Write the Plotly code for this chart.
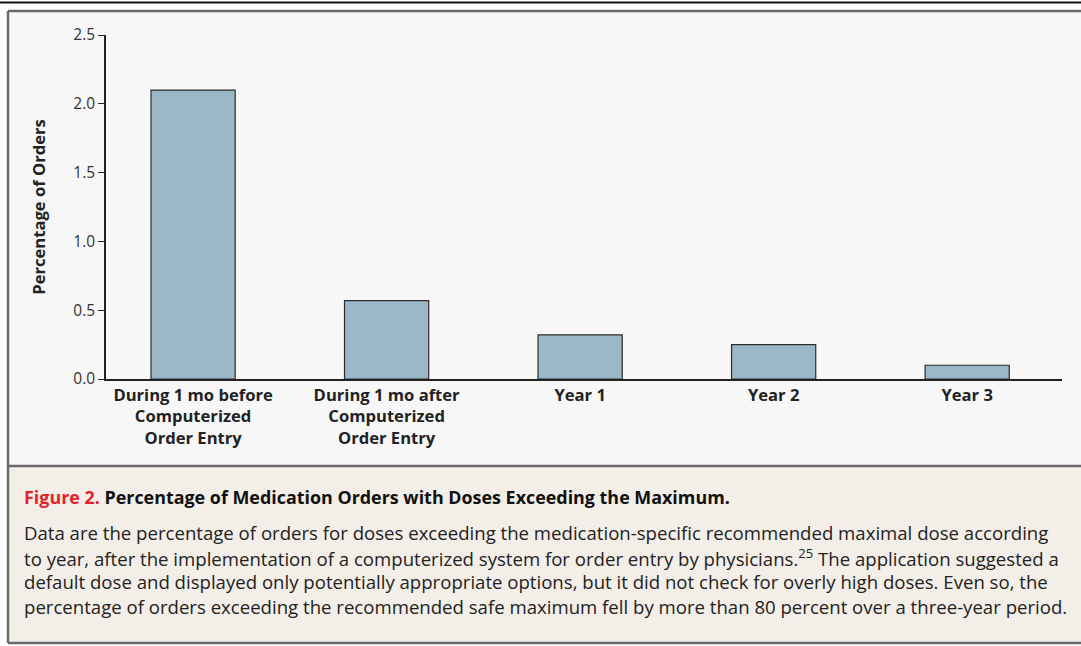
import plotly.graph_objects as go

categories = [
    "During 1 mo before<br>Computerized<br>Order Entry",
    "During 1 mo after<br>Computerized<br>Order Entry",
    "Year 1",
    "Year 2",
    "Year 3",
]
values = [2.10, 0.57, 0.32, 0.25, 0.10]
y_ticks = [0.0, 0.5, 1.0, 1.5, 2.0, 2.5]
y_tick_labels = ["0.0", "0.5", "1.0", "1.5", "2.0", "2.5"]

caption_title_red = "Figure 2."
caption_title = "Percentage of Medication Orders with Doses Exceeding the Maximum."
caption_lines = [
    "Data are the percentage of orders for doses exceeding the medication-specific recommended maximal dose according",
    "to year, after the implementation of a computerized system for order entry by physicians.<sup>25</sup> The application suggested a",
    "default dose and displayed only potentially appropriate options, but it did not check for overly high doses. Even so, the",
    "percentage of orders exceeding the recommended safe maximum fell by more than 80 percent over a three-year period.",
]

W, H = 1081, 646
ML, MR, MT, MB = 106, 19, 35, 267
PW = W - ML - MR
PH = H - MT - MB

def px(x):
    return (x - ML) / PW

def py(y):
    return (H - MB - y) / PH

FONT = "Open Sans"

fig = go.Figure()
fig.add_trace(go.Bar(
    x=list(range(len(categories))),
    y=values,
    width=0.435,
    marker=dict(color="#9cb8c8", line=dict(color="#2b2b2b", width=1.2)),
    hoverinfo="skip",
))

shapes = []
shapes.append(dict(type="line", xref="paper", yref="paper", x0=px(0), x1=px(W), y0=py(2.5), y1=py(2.5),
                   line=dict(color="#111", width=2), layer="below"))
shapes.append(dict(type="rect", xref="paper", yref="paper", x0=px(8), x1=px(W + 5), y0=py(11), y1=py(466),
                   fillcolor="#f7f7f7", line=dict(width=0), layer="below"))
shapes.append(dict(type="rect", xref="paper", yref="paper", x0=px(8), x1=px(W + 5), y0=py(466), y1=py(643),
                   fillcolor="#f3eee7", line=dict(width=0), layer="below"))
for (x0, y0, x1, y1) in [(8, 11, W + 5, 11), (8, 466, W + 5, 466), (8, 643, W + 5, 643), (8, 11, 8, 643)]:
    shapes.append(dict(type="line", xref="paper", yref="paper", x0=px(x0), x1=px(x1), y0=py(y0), y1=py(y1),
                       line=dict(color="#6a6a6a", width=2.5), layer="below"))

annotations = []
annotations.append(dict(
    xref="paper", yref="paper", x=px(22), y=py(497), xanchor="left", yanchor="middle",
    text=f"<span style='color:#e3232b'><b>{caption_title_red}</b></span> <b>{caption_title}</b>",
    showarrow=False, font=dict(family=FONT, size=17.9, color="#111"),
))
line_y = [532, 557, 581, 606]
for t, yy in zip(caption_lines, line_y):
    annotations.append(dict(
        xref="paper", yref="paper", x=px(22), y=py(yy), xanchor="left", yanchor="middle",
        text=t, showarrow=False, font=dict(family=FONT, size=18.6, color="#222"),
    ))

fig.update_layout(
    width=W, height=H,
    margin=dict(l=ML, r=MR, t=MT, b=MB),
    paper_bgcolor="white",
    plot_bgcolor="rgba(0,0,0,0)",
    showlegend=False,
    shapes=shapes,
    annotations=annotations,
    xaxis=dict(
        range=[-0.45, 4.49],
        tickmode="array",
        tickvals=list(range(len(categories))),
        ticktext=[f"<b>{c}</b>" for c in categories],
        showline=True, linecolor="#222", linewidth=1.5,
        ticks="", showgrid=False, zeroline=False,
        tickfont=dict(family=FONT, size=16.6, color="#222"),
        fixedrange=True,
    ),
    yaxis=dict(
        range=[0, 2.5],
        tickmode="array",
        tickvals=y_ticks,
        ticktext=y_tick_labels,
        showline=True, linecolor="#222", linewidth=1.5,
        ticks="outside", ticklen=6, tickcolor="#222", tickwidth=1.2,
        showgrid=False, zeroline=False,
        tickfont=dict(family=FONT, size=15.5, color="#333"),
        title=dict(text="<b>Percentage of Orders</b>", font=dict(family=FONT, size=16.6, color="#222"), standoff=24),
        fixedrange=True,
    ),
)

fig.write_html("out.html", config={"displayModeBar": False},
               post_script="document.body.style.margin='0';document.body.style.overflow='hidden';")
